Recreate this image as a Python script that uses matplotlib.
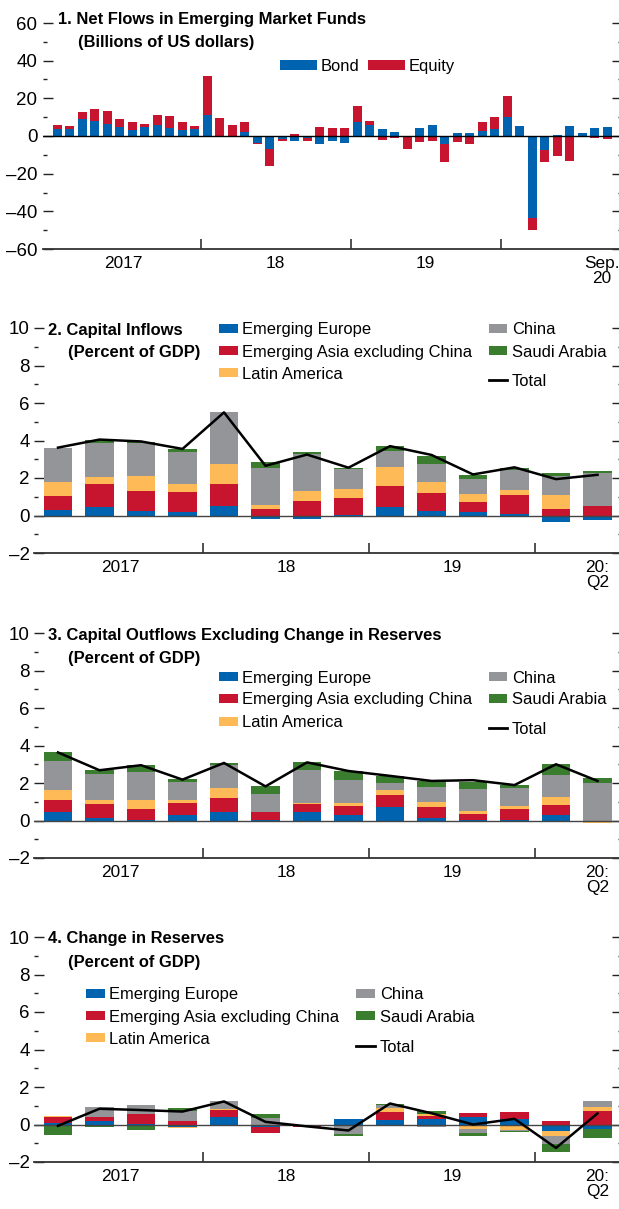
import matplotlib
matplotlib.use('Agg')
import matplotlib.pyplot as plt
from matplotlib import font_manager
from matplotlib.patches import Rectangle
from matplotlib.ticker import MultipleLocator, FixedLocator, FuncFormatter
import numpy as np

# ---------------- data ----------------
# Panel 1: monthly net flows, Jan 2017 .. Sep 2020 (billions of US dollars)
bond = [3.7, 3.7, 8.8, 8.0, 6.6, 4.8, 3.4, 4.8, 5.9, 4.5, 3.4, 3.7,
        10.9, 0.0, 0.0, 2.3, -3.6, -7.1, -1.6, -2.5, -0.9, -4.1, -2.5, -3.6,
        7.5, 5.9, 3.7, 2.1, 0.0, 4.3, 5.9, -4.1, 1.6, 1.6, 2.7, 3.7,
        10.2, 5.4, -43.7, -7.5, 0.5, 5.4, 1.6, 4.3, 4.8]
equity = [2.2, 1.6, 4.1, 6.6, 6.8, 4.3, 4.1, 1.6, 5.4, 6.2, 4.1, 1.6,
          21.2, 9.6, 5.9, 5.2, -0.9, -8.8, -0.9, 1.1, -1.6, 4.8, 4.3, 4.3,
          8.6, 2.1, -2.0, -0.9, -6.8, -3.0, -2.5, -9.6, -3.0, -4.1, 4.5, 6.4,
          11.2, 0.0, -6.4, -6.3, -10.7, -13.2, 0.0, -0.9, -1.4]
p1_tick_pos = [5.3, 17.5, 29.5, 43.6]
p1_tick_labels = ['2017', '18', '19', 'Sep.\n20']
p1_year_breaks = [11.5, 23.5, 35.5]

# Panels 2-4: quarterly, 2017:Q1 .. 2020:Q2 (percent of GDP)
series_names = ['Emerging Europe', 'Emerging Asia excluding China', 'Latin America',
                'China', 'Saudi Arabia']

inflow_eur = [0.30, 0.45, 0.23, 0.20, 0.50, -0.20, -0.20, 0.02, 0.45, 0.23, 0.20, 0.09, -0.36, -0.25]
inflow_asia = [0.75, 1.23, 1.07, 1.05, 1.18, 0.34, 0.77, 0.93, 1.12, 0.96, 0.52, 1.00, 0.34, 0.50]
inflow_latam = [0.75, 0.37, 0.80, 0.43, 1.07, 0.21, 0.53, 0.48, 1.02, 0.59, 0.43, 0.27, 0.75, 0.00]
inflow_china = [1.82, 1.84, 1.78, 1.73, 2.78, 1.98, 1.98, 1.03, 0.87, 0.96, 0.80, 1.07, 1.02, 1.76]
inflow_saudi = [0.00, 0.14, 0.02, 0.14, -0.09, 0.30, 0.10, 0.09, 0.25, 0.43, 0.21, 0.11, 0.16, 0.11]
inflow_total = [3.62, 4.05, 3.95, 3.55, 5.50, 2.65, 3.25, 2.55, 3.70, 3.23, 2.19, 2.57, 1.94, 2.17]

out_eur = [0.45, 0.16, 0.05, 0.27, 0.45, 0.05, 0.45, 0.32, 0.70, 0.16, 0.05, 0.05, 0.27, -0.03]
out_asia = [0.63, 0.70, 0.59, 0.64, 0.73, 0.43, 0.41, 0.48, 0.64, 0.54, 0.32, 0.54, 0.54, -0.02]
out_latam = [0.54, 0.21, 0.43, 0.21, 0.54, 0.00, 0.07, 0.16, 0.27, 0.27, 0.16, 0.21, 0.43, -0.07]
out_china = [1.55, 1.41, 1.52, 0.91, 1.25, 0.93, 1.75, 1.18, 0.38, 0.80, 1.13, 0.91, 1.20, 1.98]
out_saudi = [0.48, 0.20, 0.36, 0.16, 0.09, 0.41, 0.43, 0.48, 0.38, 0.32, 0.40, 0.21, 0.57, 0.27]
out_total = [3.63, 2.68, 2.95, 2.18, 3.07, 1.82, 3.10, 2.64, 2.38, 2.11, 2.15, 1.89, 3.00, 2.11]

res_eur = [0.10, 0.18, 0.02, -0.12, 0.41, -0.12, -0.06, 0.30, 0.25, 0.30, 0.41, 0.30, -0.34, -0.23]
res_asia = [0.28, 0.23, 0.52, 0.21, 0.37, -0.32, -0.06, 0.00, 0.43, 0.16, 0.21, 0.37, 0.20, 0.73]
res_latam = [0.07, 0.00, 0.00, -0.05, 0.05, 0.00, 0.00, 0.00, 0.21, 0.11, -0.23, -0.28, -0.27, 0.21]
res_china = [0.00, 0.55, 0.48, 0.50, 0.43, 0.36, 0.00, -0.50, 0.16, -0.12, -0.21, -0.05, -0.43, 0.32]
res_saudi = [-0.55, -0.12, -0.28, 0.18, -0.07, 0.21, 0.00, -0.09, 0.05, 0.16, -0.16, -0.05, -0.43, -0.48]
res_total = [-0.07, 0.84, 0.77, 0.69, 1.23, 0.14, -0.10, -0.32, 1.12, 0.60, 0.00, 0.30, -1.25, 0.59]

q_tick_pos = [1.5, 5.5, 9.5, 13]
q_tick_labels = ['2017', '18', '19', '20:\nQ2']
q_year_breaks = [3.5, 7.5, 11.5]

titles = ['1. Net Flows in Emerging Market Funds', '2. Capital Inflows',
          '3. Capital Outflows Excluding Change in Reserves', '4. Change in Reserves']
subtitles = ['(Billions of US dollars)', '(Percent of GDP)', '(Percent of GDP)', '(Percent of GDP)']

# ---------------- style ----------------
BLUE = '#0063AF'
RED = '#C8152F'
YELLOW = '#FDBA57'
GRAY = '#939598'
GREEN = '#3A7D2F'
COLORS = [BLUE, RED, YELLOW, GRAY, GREEN]

names = {f.name for f in font_manager.fontManager.ttflist}
REG = 'Liberation Sans' if 'Liberation Sans' in names else 'DejaVu Sans'
if 'Liberation Sans Narrow' in names:
    NARROW, NF = 'Liberation Sans Narrow', 1.0
else:
    NARROW, NF = REG, 0.82   # same widths as a narrow face at the larger size

LEG_FS = 14.5 * NF
TITLE_FS = 14.5 * NF
XL_FS = 15.2 * NF

W, H = 619, 1209
fig = plt.figure(figsize=(W / 100, H / 100), dpi=100)


def px_axes(left, top, right, bottom):
    return fig.add_axes([left / W, 1 - bottom / H, (right - left) / W, (bottom - top) / H])


def stacked(ax, x, series, colors, width):
    pos = np.zeros(len(x))
    neg = np.zeros(len(x))
    for vals, c in zip(series, colors):
        v = np.asarray(vals, float)
        bottom = np.where(v >= 0, pos, neg)
        ax.bar(x, v, width, bottom=bottom, color=c, linewidth=0, zorder=2)
        pos = pos + np.where(v >= 0, v, 0)
        neg = neg + np.where(v < 0, v, 0)


def style(ax, ylim, major, minor, tick_pos, tick_labels, breaks, ylabel_pad):
    ax.set_ylim(*ylim)
    ax.yaxis.set_major_locator(MultipleLocator(major))
    ax.yaxis.set_minor_locator(MultipleLocator(minor))
    ax.yaxis.set_major_formatter(FuncFormatter(
        lambda v, p: ('\u2013%d' % abs(v)) if v < 0 else '%d' % v))
    for s in ['left', 'right', 'top']:
        ax.spines[s].set_visible(False)
    ax.spines['bottom'].set_color('#333333')
    ax.spines['bottom'].set_linewidth(1.3)
    ax.tick_params(axis='y', which='major', direction='in', length=7, width=1.0,
                   left=True, right=True, labelleft=True, labelright=False,
                   pad=ylabel_pad, labelsize=13.5, colors='#222222', labelcolor='black')
    ax.tick_params(axis='y', which='minor', direction='in', length=3, width=1.0,
                   left=True, right=True, colors='#222222')
    for lab in ax.get_yticklabels():
        lab.set_family(REG)
    ax.xaxis.set_major_locator(FixedLocator(tick_pos))
    ax.set_xticklabels(tick_labels, fontsize=XL_FS, family=NARROW, linespacing=1.0)
    ax.xaxis.set_minor_locator(FixedLocator(breaks))
    ax.tick_params(axis='x', which='major', length=0, pad=5)
    ax.tick_params(axis='x', which='minor', direction='in', length=7, width=1.2,
                   colors='#333333')
    ax.set_facecolor('none')


# ---------------- panel 1 ----------------
ax1 = px_axes(43, 23, 622, 249)
xm = np.arange(len(bond))
stacked(ax1, xm, [bond, equity], [BLUE, RED], 0.72)
ax1.axhline(0, color='black', lw=1.0, zorder=3)
ax1.set_xlim((43 - 57) / 12.5, (622 - 57) / 12.5)
style(ax1, (-60, 60), 20, 10, p1_tick_pos, p1_tick_labels, p1_year_breaks, 4)

# ---------------- panels 2-4 ----------------
xq = np.arange(len(inflow_total))
panels = [
    ([inflow_eur, inflow_asia, inflow_latam, inflow_china, inflow_saudi], inflow_total, (328, 553)),
    ([out_eur, out_asia, out_latam, out_china, out_saudi], out_total, (633, 858)),
    ([res_eur, res_asia, res_latam, res_china, res_saudi], res_total, (937, 1162)),
]
for ser, tot, (top, bot) in panels:
    ax = px_axes(34, top, 622, bot)
    stacked(ax, xq, ser, COLORS, 0.675)
    ax.axhline(0, color='#444444', lw=1.0, zorder=3)
    ax.plot(xq, tot, color='black', lw=1.8, zorder=4)
    ax.set_xlim((34 - 58) / 41.5, (622 - 58) / 41.5)
    style(ax, (-2, 10), 2, 1, q_tick_pos, q_tick_labels, q_year_breaks, 3)

# ---------------- overlay: titles and legends ----------------
ov = fig.add_axes([0, 0, 1, 1])
ov.set_xlim(0, W)
ov.set_ylim(H, 0)
ov.axis('off')

title_pos = [((58, 24), (78, 46.5)), ((48, 335), (68, 357)),
             ((48, 640), (68, 663)), ((48, 943), (68, 966.5))]
for t, s, ((x1, y1), (x2, y2)) in zip(titles, subtitles, title_pos):
    ov.text(x1, y1, t, fontsize=TITLE_FS, fontweight='bold', family=NARROW, va='baseline', ha='left')
    ov.text(x2, y2, s, fontsize=TITLE_FS, fontweight='bold', family=NARROW, va='baseline', ha='left')


def leg_patch(x0, x1, yc, h, color, label, tx):
    ov.add_patch(Rectangle((x0, yc - h / 2), x1 - x0, h, color=color, lw=0))
    ov.text(tx, yc + 6.0, label, fontsize=LEG_FS, family=NARROW, va='baseline', ha='left')


def leg_line(x0, x1, yc, label, tx):
    ov.plot([x0, x1], [yc, yc], color='black', lw=2.0)
    ov.text(tx, yc + 6.0, label, fontsize=LEG_FS, family=NARROW, va='baseline', ha='left')


# panel 1 legend
leg_patch(280, 317, 65, 10, BLUE, 'Bond', 321)
leg_patch(368, 405, 65, 10, RED, 'Equity', 409)

legend_layout = [
    ((219, 238, 242), (328.3, 350.7, 372.7), (489, 507, 512), (328.3, 350.7, 380)),
    ((219, 238, 242), (676.7, 698.3, 721), (489, 507, 512), (676.7, 698.3, 727.7)),
    ((86, 105, 109), (993, 1015.7, 1037.7), (356, 375, 380), (993, 1015.7, 1046)),
]
for (lx, lrows, rx, rrows) in legend_layout:
    for i in range(3):
        leg_patch(lx[0], lx[1], lrows[i], 9, COLORS[i], series_names[i], lx[2])
    leg_patch(rx[0], rx[1], rrows[0], 9, COLORS[3], series_names[3], rx[2])
    leg_patch(rx[0], rx[1], rrows[1], 9, COLORS[4], series_names[4], rx[2])
    leg_line(rx[0], rx[1], rrows[2], 'Total', rx[2])

fig.savefig('out.png', dpi=100)
